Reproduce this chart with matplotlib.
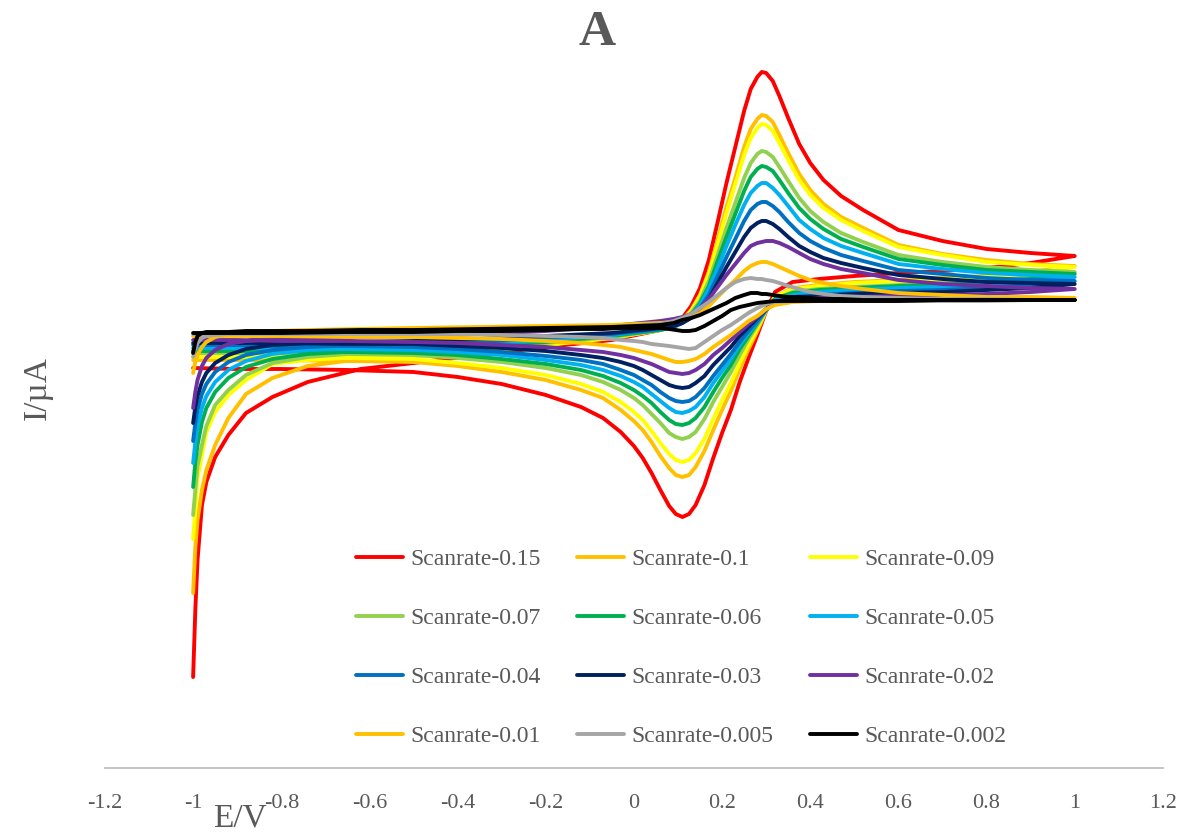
import matplotlib
matplotlib.use("Agg")
import matplotlib.pyplot as plt

plt.rcParams["font.family"] = ["Liberation Serif", "DejaVu Serif"]

TEXT = "#595959"

# potential grids (V)
FWD_E = [-1.0, -0.995, -0.99, -0.98, -0.97, -0.95, -0.92, -0.88, -0.82, -0.74,
         -0.62, -0.5, -0.35, -0.2, -0.05, 0.06,
         0.09, 0.11, 0.13, 0.15, 0.17, 0.19, 0.21, 0.23, 0.25, 0.265, 0.28, 0.29,
         0.30, 0.315, 0.33, 0.35, 0.375, 0.4, 0.43, 0.47, 0.52, 0.6, 0.7, 0.8,
         0.9, 1.0]
REV_E = [1.0, 0.9, 0.8, 0.7, 0.6, 0.5, 0.42, 0.36,
         0.32, 0.30, 0.28, 0.26, 0.24, 0.22, 0.2, 0.18, 0.16, 0.14, 0.125, 0.11,
         0.095, 0.08, 0.06, 0.04, 0.02, 0.0, -0.03, -0.07, -0.12, -0.2, -0.3,
         -0.4, -0.5, -0.65, -0.8, -0.9, -1.0]

labels = ["Scanrate-0.15", "Scanrate-0.1", "Scanrate-0.09", "Scanrate-0.07",
          "Scanrate-0.06", "Scanrate-0.05", "Scanrate-0.04", "Scanrate-0.03",
          "Scanrate-0.02", "Scanrate-0.01", "Scanrate-0.005", "Scanrate-0.002"]
colors = ["#FF0000", "#FFC000", "#FFFF00", "#92D050", "#00B050", "#00B0F0",
          "#0070C0", "#002060", "#7030A0", "#FFC000", "#A5A5A5", "#000000"]

# forward scan currents (uA)
fwd_015 = [-34.7, -28.0, -23.0, -17.5, -15.2, -12.7, -10.5, -8.3, -6.7, -5.2, -3.9, -3.3, -2.5, -1.7, -1.0, 0.0,
           0.5, 1.2, 2.4, 4.2, 7.0, 10.8, 14.7, 18.3, 21.9, 24.1, 25.3, 25.8,
           25.7, 24.9, 23.4, 21.2, 18.6, 16.7, 15.0, 13.4, 12.0, 10.0, 8.9, 8.1, 7.7, 7.4]
fwd_010 = [-26.3, -21.7, -19.0, -16.0, -14.0, -11.5, -8.8, -6.4, -4.8, -3.6, -2.9, -2.6, -2.2, -1.5, -0.8, 0.0,
           0.4, 1.0, 2.0, 3.5, 5.8, 9.0, 12.3, 15.2, 18.3, 20.1, 21.1, 21.5,
           21.4, 20.8, 19.5, 17.7, 15.6, 14.0, 12.6, 11.3, 10.2, 8.5, 7.6, 7.0, 6.6, 6.4]
fwd_009 = [-20.9, -18.0, -14.8, -12.5, -10.2, -8.2, -6.5, -5.0, -3.4, -3.0, -2.7, -2.5, -2.1, -1.5, -0.8, 0.0,
           0.4, 1.0, 1.9, 3.4, 5.6, 8.6, 11.7, 14.6, 17.5, 19.2, 20.2, 20.6,
           20.5, 19.9, 18.7, 17.0, 15.0, 13.5, 12.2, 11.0, 9.9, 8.3, 7.5, 6.8, 6.5, 6.3]
fwd_007 = [-18.5, -16.0, -13.6, -11.5, -9.6, -7.5, -6.0, -4.5, -3.3, -2.7, -2.3, -2.1, -1.8, -1.3, -0.7, 0.0,
           0.3, 0.8, 1.7, 2.9, 4.9, 7.5, 10.2, 12.7, 15.2, 16.7, 17.6, 17.9,
           17.8, 17.3, 16.3, 14.9, 13.2, 11.9, 10.8, 9.7, 8.8, 7.5, 6.8, 6.3, 6.0, 5.8]
fwd_006 = [-15.7, -13.2, -11.5, -9.2, -7.8, -6.2, -4.8, -3.7, -2.9, -2.4, -2.1, -1.9, -1.6, -1.2, -0.6, 0.0,
           0.3, 0.8, 1.5, 2.7, 4.4, 6.9, 9.3, 11.6, 13.9, 15.3, 16.1, 16.4,
           16.3, 15.9, 15.0, 13.7, 12.2, 11.1, 10.1, 9.1, 8.3, 7.1, 6.5, 6.0, 5.8, 5.6]
fwd_005 = [-13.3, -11.2, -9.7, -7.8, -6.6, -5.2, -4.0, -3.1, -2.4, -2.0, -1.8, -1.6, -1.4, -1.0, -0.5, 0.1,
           0.4, 0.8, 1.5, 2.5, 4.1, 6.2, 8.4, 10.5, 12.5, 13.7, 14.4, 14.7,
           14.7, 14.2, 13.5, 12.4, 11.0, 10.1, 9.2, 8.4, 7.7, 6.6, 6.1, 5.7, 5.5, 5.3]
fwd_004 = [-11.1, -9.3, -8.0, -6.4, -5.4, -4.2, -3.2, -2.5, -2.0, -1.7, -1.5, -1.4, -1.2, -0.8, -0.4, 0.1,
           0.3, 0.7, 1.3, 2.2, 3.5, 5.4, 7.3, 9.1, 10.9, 12.0, 12.6, 12.8,
           12.8, 12.4, 11.8, 10.8, 9.7, 8.9, 8.2, 7.5, 6.9, 6.0, 5.6, 5.2, 5.0, 4.9]
fwd_003 = [-9.3, -7.7, -6.6, -5.2, -4.3, -3.3, -2.5, -1.9, -1.5, -1.3, -1.2, -1.1, -0.9, -0.6, -0.3, 0.2,
           0.4, 0.7, 1.2, 1.9, 3.1, 4.7, 6.3, 7.8, 9.3, 10.2, 10.7, 10.9,
           10.9, 10.6, 10.1, 9.3, 8.4, 7.8, 7.2, 6.7, 6.2, 5.5, 5.1, 4.8, 4.7, 4.6]
fwd_002 = [-7.8, -6.2, -5.0, -3.6, -2.8, -2.0, -1.4, -1.1, -0.9, -0.8, -0.7, -0.6, -0.4, -0.1, 0.4, 0.9,
           1.1, 1.3, 1.6, 2.2, 3.1, 4.3, 5.5, 6.6, 7.7, 8.4, 8.7, 8.8,
           8.9, 8.9, 8.7, 8.3, 7.7, 7.1, 6.6, 6.1, 5.7, 5.0, 4.6, 4.4, 4.2, 4.1]
fwd_001 = [-4.3, -3.2, -2.5, -1.7, -1.2, -0.7, -0.4, -0.2, -0.1, 0.0, 0.1, 0.2, 0.3, 0.4, 0.5, 0.7,
           0.8, 1.0, 1.3, 1.7, 2.4, 3.3, 4.2, 5.0, 5.9, 6.4, 6.7, 6.8,
           6.8, 6.6, 6.3, 5.9, 5.4, 5.0, 4.7, 4.4, 4.1, 3.7, 3.5, 3.3, 3.3, 3.2]
fwd_0005 = [-2.7, -1.8, -1.3, -0.8, -0.6, -0.5, -0.4, -0.4, -0.3, -0.3, -0.2, -0.1, 0.0, 0.1, 0.3, 0.6,
            0.9, 1.2, 1.6, 2.2, 2.8, 3.5, 4.2, 4.8, 5.1, 5.2, 5.1, 5.1,
            5.0, 4.9, 4.7, 4.4, 4.1, 3.8, 3.6, 3.4, 3.3, 3.2, 3.1, 3.1, 3.0, 3.0]
fwd_0002 = [-2.3, -1.2, -0.6, -0.3, -0.2, -0.2, -0.2, -0.1, -0.1, -0.1, 0.0, 0.0, 0.1, 0.2, 0.3, 0.5,
            0.7, 1.0, 1.2, 1.5, 1.9, 2.3, 2.7, 3.2, 3.5, 3.7, 3.7, 3.6,
            3.6, 3.5, 3.4, 3.3, 3.3, 3.2, 3.1, 3.1, 3.0, 3.0, 3.0, 3.0, 3.0, 3.0]

# reverse scan currents (uA)
rev_015 = [7.4, 6.7, 6.2, 5.9, 5.7, 5.4, 5.1, 4.8,
           3.8, 1.9, -0.5, -2.8, -5.2, -8.0, -10.3, -12.8, -15.5, -17.5, -18.4, -18.7,
           -18.4, -17.6, -16.0, -14.3, -12.8, -11.6, -10.2, -8.8, -7.7, -6.5, -5.4, -4.7, -4.2,
           -4.0, -3.9, -3.9, -3.8]
rev_010 = [6.4, 5.8, 5.4, 5.2, 5.0, 4.8, 4.5, 4.2,
           3.3, 1.9, -0.1, -1.9, -3.9, -6.1, -8.0, -10.0, -12.1, -13.7, -14.5, -14.7,
           -14.5, -13.8, -12.6, -11.2, -10.0, -9.1, -8.0, -6.8, -6.0, -5.0, -4.2, -3.6, -3.2,
           -3.1, -3.0, -3.0, -3.0]
rev_009 = [6.3, 5.7, 5.3, 5.1, 4.9, 4.7, 4.4, 4.1,
           3.3, 2.0, 0.2, -1.5, -3.3, -5.3, -7.0, -8.9, -10.9, -12.3, -13.0, -13.2,
           -13.0, -12.4, -11.3, -10.1, -9.0, -8.2, -7.2, -6.2, -5.4, -4.5, -3.8, -3.3, -2.9,
           -2.8, -2.7, -2.7, -2.7]
rev_007 = [5.8, 5.3, 4.9, 4.7, 4.5, 4.3, 4.1, 3.8,
           3.1, 2.0, 0.5, -0.9, -2.5, -4.2, -5.7, -7.2, -8.9, -10.2, -10.7, -10.9,
           -10.7, -10.3, -9.3, -8.4, -7.5, -6.8, -6.0, -5.2, -4.5, -3.8, -3.2, -2.8, -2.5,
           -2.4, -2.3, -2.3, -2.3]
rev_006 = [5.6, 5.1, 4.8, 4.5, 4.4, 4.2, 4.0, 3.7,
           3.1, 2.1, 0.7, -0.6, -1.9, -3.5, -4.8, -6.2, -7.7, -8.8, -9.3, -9.5,
           -9.4, -9.0, -8.2, -7.3, -6.6, -6.0, -5.3, -4.6, -4.0, -3.4, -2.9, -2.5, -2.3,
           -2.2, -2.1, -2.1, -2.1]
rev_005 = [5.3, 4.8, 4.5, 4.3, 4.2, 4.0, 3.8, 3.5,
           3.0, 2.0, 0.8, -0.3, -1.5, -2.9, -4.1, -5.3, -6.7, -7.7, -8.1, -8.3,
           -8.2, -7.8, -7.1, -6.4, -5.7, -5.2, -4.6, -4.0, -3.5, -3.0, -2.5, -2.2, -2.0,
           -1.9, -1.8, -1.8, -1.8]
rev_004 = [4.9, 4.5, 4.2, 4.0, 3.9, 3.7, 3.5, 3.3,
           2.8, 2.0, 0.9, -0.1, -1.2, -2.4, -3.5, -4.6, -5.8, -6.7, -7.1, -7.2,
           -7.1, -6.8, -6.2, -5.5, -5.0, -4.5, -4.0, -3.4, -3.0, -2.6, -2.2, -1.9, -1.7,
           -1.6, -1.6, -1.5, -1.5]
rev_003 = [4.6, 4.2, 4.0, 3.8, 3.7, 3.6, 3.4, 3.2,
           2.8, 2.1, 1.2, 0.3, -0.6, -1.7, -2.6, -3.5, -4.6, -5.3, -5.7, -5.8,
           -5.7, -5.5, -5.0, -4.5, -4.0, -3.6, -3.2, -2.8, -2.5, -2.1, -1.8, -1.6, -1.4,
           -1.4, -1.3, -1.3, -1.3]
rev_002 = [4.1, 3.8, 3.6, 3.5, 3.4, 3.3, 3.2, 3.0,
           2.7, 2.1, 1.3, 0.6, -0.2, -1.0, -1.8, -2.5, -3.4, -4.0, -4.3, -4.4,
           -4.3, -4.2, -3.8, -3.4, -3.1, -2.8, -2.5, -2.2, -2.0, -1.7, -1.5, -1.3, -1.2,
           -1.1, -1.1, -1.0, -1.0]
rev_001 = [3.2, 3.1, 3.1, 3.0, 3.0, 2.9, 2.9, 2.8,
           2.5, 2.1, 1.4, 0.9, 0.2, -0.5, -1.1, -1.7, -2.4, -2.9, -3.1, -3.2,
           -3.2, -3.0, -2.7, -2.4, -2.2, -2.0, -1.7, -1.5, -1.3, -1.1, -0.9, -0.8, -0.7,
           -0.7, -0.6, -0.6, -0.6]
rev_0005 = [3.0, 3.0, 2.9, 2.9, 2.9, 2.9, 2.9, 2.9,
            2.8, 2.6, 2.2, 1.7, 1.1, 0.5, 0.0, -0.6, -1.2, -1.8, -1.9, -1.8,
            -1.7, -1.6, -1.5, -1.4, -1.2, -1.1, -1.0, -0.8, -0.7, -0.6, -0.5, -0.4, -0.4,
            -0.4, -0.4, -0.4, -0.4]
rev_0002 = [3.0, 3.0, 3.0, 3.0, 2.9, 2.9, 2.9, 2.9,
            2.9, 2.8, 2.7, 2.5, 2.3, 2.0, 1.4, 0.9, 0.4, 0.0, -0.1, -0.1,
            0.0, 0.1, 0.2, 0.2, 0.2, 0.2, 0.2, 0.1, 0.1, 0.0, -0.1, -0.1, -0.2,
            -0.2, -0.3, -0.3, -0.3]

forward = [fwd_015, fwd_010, fwd_009, fwd_007, fwd_006, fwd_005,
           fwd_004, fwd_003, fwd_002, fwd_001, fwd_0005, fwd_0002]
reverse = [rev_015, rev_010, rev_009, rev_007, rev_006, rev_005,
           rev_004, rev_003, rev_002, rev_001, rev_0005, rev_0002]

fig = plt.figure(figsize=(11.86, 8.33), dpi=100)
ax = fig.add_axes([0.0885, 0.078, 0.892, 0.856])

handles = []
for f, r, c, lab in zip(forward, reverse, colors, labels):
    line, = ax.plot(FWD_E + REV_E, f + r, color=c, lw=2.8, label=lab,
                    solid_joinstyle="round", solid_capstyle="round")
    handles.append(line)

ax.set_xlim(-1.2, 1.2)
ax.set_ylim(-43.8, 27.5)
xt = [-1.2, -1.0, -0.8, -0.6, -0.4, -0.2, 0.0, 0.2, 0.4, 0.6, 0.8, 1.0, 1.2]
ax.set_xticks(xt)
ax.set_xticklabels([f"{v:g}" for v in xt], fontsize=16, color=TEXT)
ax.tick_params(axis="x", length=0, pad=19)
ax.set_yticks([])
for s in ["top", "right", "left"]:
    ax.spines[s].set_visible(False)
ax.spines["bottom"].set_color("#BFBFBF")
ax.spines["bottom"].set_linewidth(1.3)

fig.text(597 / 1186, 1 - 33 / 833, "A", ha="center", va="center",
         fontsize=37, fontweight="bold", color=TEXT)
fig.text(240 / 1186, 1 - 818 / 833, "E/V", ha="center", va="center",
         fontsize=24, color=TEXT)
fig.text(38 / 1186, 1 - 388 / 833, "I/µA", ha="center", va="center",
         fontsize=24, color=TEXT, rotation=90)

# legend reads row by row, matplotlib fills column first: reorder
order = [0, 3, 6, 9, 1, 4, 7, 10, 2, 5, 8, 11]
ax.legend([handles[i] for i in order], [labels[i] for i in order],
          ncol=3, frameon=False, fontsize=17, labelcolor=TEXT,
          loc="upper left", bbox_to_anchor=(344 / 1186, 1 - 537 / 833),
          bbox_transform=fig.transFigure, borderpad=0, handlelength=2.0,
          handletextpad=0.3, columnspacing=1.55, labelspacing=1.58)

fig.savefig("out.png", dpi=100, facecolor="white")
plt.close(fig)
